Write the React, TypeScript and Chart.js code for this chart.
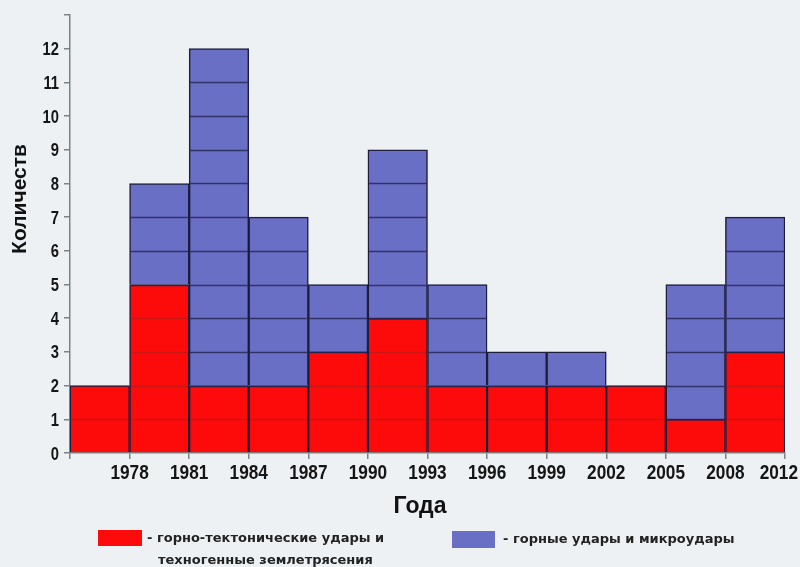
import React, { useEffect, useRef } from "react";
import { Chart, registerables } from "chart.js";

Chart.register(...registerables);

// Bin edges (tick labels on the x axis); bar i spans edge i .. edge i+1
const edgeLabels = ["", "1978", "1981", "1984", "1987", "1990", "1993", "1996", "1999", "2002", "2005", "2008", "2012"];
const categories = ["до 1978", "1978–1981", "1981–1984", "1984–1987", "1987–1990", "1990–1993", "1993–1996", "1996–1999", "1999–2002", "2002–2005", "2005–2008", "2008–2012"];
const tectonicValues = [2, 5, 2, 2, 3, 4, 2, 2, 2, 2, 1, 3];
const rockburstValues = [0, 3, 10, 5, 2, 5, 3, 1, 1, 0, 4, 4];
const yTickLabels = ["0", "1", "2", "3", "4", "5", "6", "7", "8", "9", "10", "11", "12"];
const yTickMax = 13;

const seriesNames = ["- горно-тектонические удары и", "- горные удары и микроудары"];
const seriesNameLine2 = "техногенные землетрясения";
const xTitle = "Года";
const yTitle = "Количеств";

const RED = "#fd0b0b";
const BLUE = "#6a6fc6";
const EDGE = "#1d1d3d";
const AXIS = "#7a8484";
const SANS = "'Liberation Sans', Arial, 'DejaVu Sans', sans-serif";
const WIDE = "'DejaVu Sans', 'Liberation Sans', sans-serif";

function narrowText(ctx: any, text: string, x: number, y: number, align: "left" | "center" | "right", sx: number) {
  ctx.save();
  ctx.translate(x, y);
  ctx.scale(sx, 1);
  ctx.textAlign = align;
  ctx.fillText(text, 0, 0);
  ctx.restore();
}

const decorPlugin = {
  id: "decor",
  afterDatasetsDraw(chart: any) {
    const ctx = chart.ctx;
    const y = chart.scales.y;
    const meta0 = chart.getDatasetMeta(0);
    ctx.save();
    meta0.data.forEach((bar: any, i: number) => {
      const total = tectonicValues[i] + rockburstValues[i];
      const left = bar.x - bar.width / 2;
      const right = bar.x + bar.width / 2;
      for (let k = 1; k < total; k++) {
        const py = Math.round(y.getPixelForValue(k)) + 0.5;
        ctx.beginPath();
        ctx.lineWidth = 1.5;
        ctx.strokeStyle = k < tectonicValues[i] ? "rgba(110,40,40,0.35)" : "rgba(35,35,80,0.8)";
        ctx.moveTo(left + 1, py);
        ctx.lineTo(right - 1, py);
        ctx.stroke();
      }
    });
    ctx.restore();
  },
  afterDraw(chart: any) {
    const ctx = chart.ctx;
    const xs = chart.scales.xEdges;
    const ys = chart.scales.y;

    // tick labels (narrow bold)
    ctx.save();
    ctx.fillStyle = "#151515";
    ctx.textBaseline = "alphabetic";
    ctx.font = `bold 21px ${SANS}`;
    edgeLabels.forEach((lab, i) => {
      if (!lab) return;
      const half = (ctx.measureText(lab).width * 0.82) / 2;
      const cx = Math.min(xs.getPixelForValue(i), chart.width - half - 2);
      narrowText(ctx, lab, cx, 479, "center", 0.82);
    });
    ctx.font = `bold 18px ${SANS}`;
    yTickLabels.forEach((lab, i) => {
      narrowText(ctx, lab, 59, ys.getPixelForValue(i) + 6.5, "right", 0.82);
    });
    ctx.restore();

    // y title
    ctx.save();
    ctx.fillStyle = "#111";
    ctx.translate(20, 199);
    ctx.rotate(-Math.PI / 2);
    ctx.font = `bold 21px ${SANS}`;
    ctx.textAlign = "center";
    ctx.textBaseline = "middle";
    ctx.fillText(yTitle, 0, 0);
    ctx.restore();

    ctx.save();
    ctx.fillStyle = "#111";
    ctx.font = `bold 23px ${SANS}`;
    ctx.textAlign = "center";
    ctx.textBaseline = "middle";
    ctx.fillText(xTitle, 420, 507);

    // legend
    ctx.fillStyle = RED;
    ctx.fillRect(98, 530, 44, 16);
    ctx.fillStyle = BLUE;
    ctx.fillRect(452, 531, 43, 17);
    ctx.fillStyle = "#222";
    ctx.font = `bold 13px ${WIDE}`;
    ctx.textAlign = "left";
    ctx.textBaseline = "middle";
    ctx.fillText(seriesNames[0], 147, 539);
    ctx.fillText(seriesNameLine2, 158, 561);
    ctx.fillText(seriesNames[1], 503, 540);
    ctx.restore();
  },
};

export default function App() {
  const ref = useRef<HTMLCanvasElement>(null);
  useEffect(() => {
    if (!ref.current) return;
    const chart = new Chart(ref.current, {
      type: "bar",
      data: {
        labels: categories,
        datasets: [
          {
            label: seriesNames[0],
            data: tectonicValues,
            backgroundColor: RED,
            borderColor: EDGE,
            borderWidth: 1.5,
            borderSkipped: "start",
            barPercentage: 1,
            categoryPercentage: 1,
            xAxisID: "x",
          },
          {
            label: seriesNames[1],
            data: rockburstValues,
            backgroundColor: BLUE,
            borderColor: EDGE,
            borderWidth: 1.5,
            borderSkipped: "start",
            barPercentage: 1,
            categoryPercentage: 1,
            xAxisID: "x",
          },
        ],
      },
      options: {
        animation: false,
        responsive: false,
        layout: { padding: { left: 8, right: 15, top: 15, bottom: 0 } },
        plugins: { legend: { display: false }, tooltip: { enabled: false } },
        scales: {
          x: { type: "category", stacked: true, display: false, offset: true },
          xEdges: {
            type: "linear",
            position: "bottom",
            offset: false,
            min: 0,
            max: edgeLabels.length - 1,
            afterBuildTicks: (s: any) => {
              s.ticks = edgeLabels.map((_, i) => ({ value: i }));
            },
            afterFit: (s: any) => {
              s.height = 114;
            },
            ticks: { display: false },
            grid: { offset: false, drawOnChartArea: false, tickLength: 6, color: AXIS, lineWidth: 1.5 },
            border: { color: AXIS, width: 1.5 },
          },
          y: {
            stacked: true,
            min: 0,
            max: yTickMax,
            afterFit: (s: any) => {
              s.width = 62;
            },
            ticks: { stepSize: 1, display: false },
            grid: { drawOnChartArea: false, tickLength: 6, color: AXIS, lineWidth: 1.5 },
            border: { color: AXIS, width: 1.5 },
          },
        },
      },
      plugins: [decorPlugin],
    } as any);
    return () => chart.destroy();
  }, []);
  return (
    <div style={{ position: "absolute", left: 0, top: 0, width: 800, height: 567, background: "#eef1f3" }}>
      <canvas ref={ref} width={800} height={567} style={{ display: "block" }} />
    </div>
  );
}
